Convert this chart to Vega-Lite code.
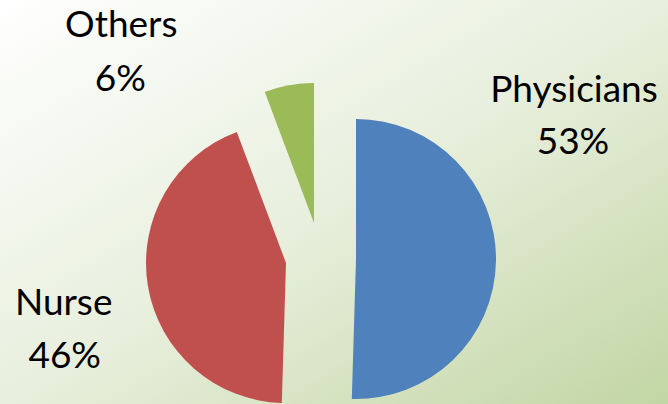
{
  "$schema": "https://vega.github.io/schema/vega-lite/v6.json",
  "width": 668,
  "height": 404,
  "padding": 0,
  "autosize": {"type": "none"},
  "background": "#ffffff",
  "config": {"view": {"stroke": null}, "text": {"font": "Lato", "fontSize": 37, "baseline": "alphabetic", "align": "center", "color": "#000000"}},
  "data": {
    "values": [
      {"role": "Physicians", "share": 0.53},
      {"role": "Nurse", "share": 0.46},
      {"role": "Others", "share": 0.06}
    ]
  },
  "encoding": {
    "theta": {"field": "share", "type": "quantitative", "stack": true},
    "order": {"field": "share", "type": "quantitative", "sort": "descending"},
    "color": {
      "field": "role",
      "type": "nominal",
      "scale": {"domain": ["Physicians", "Nurse", "Others"], "range": ["#4F81BD", "#C0504D", "#9BBB59"]},
      "legend": null
    }
  },
  "layer": [
    {
      "data": {"values": [{}]},
      "mark": {
        "type": "rect",
        "fill": {
          "gradient": "linear",
          "x1": 0, "y1": 0, "x2": 1, "y2": 1,
          "stops": [
            {"offset": 0, "color": "#ffffff"},
            {"offset": 0.5, "color": "#e8efdd"},
            {"offset": 1, "color": "#c2d6a4"}
          ]
        }
      },
      "encoding": {"theta": null, "order": null, "color": null}
    },
    {
      "mark": {"type": "arc", "radius": 140, "xOffset": 22, "yOffset": 57},
      "encoding": {"opacity": {"condition": {"test": "datum.role === 'Physicians'", "value": 1}, "value": 0}}
    },
    {
      "mark": {"type": "arc", "radius": 140, "xOffset": -48, "yOffset": 61},
      "encoding": {"opacity": {"condition": {"test": "datum.role === 'Nurse'", "value": 1}, "value": 0}}
    },
    {
      "mark": {"type": "arc", "radius": 140, "xOffset": -20, "yOffset": 21},
      "encoding": {"opacity": {"condition": {"test": "datum.role === 'Others'", "value": 1}, "value": 0}}
    },
    {
      "mark": {"type": "text", "radius": 200, "xOffset": 22, "yOffset": 57, "dx": 18, "dy": -160},
      "encoding": {"text": {"field": "role"}, "color": null, "opacity": {"condition": {"test": "datum.role === 'Physicians'", "value": 1}, "value": 0}}
    },
    {
      "mark": {"type": "text", "radius": 200, "xOffset": 22, "yOffset": 57, "dx": 17, "dy": -108},
      "encoding": {"text": {"field": "share", "format": ".0%"}, "color": null, "opacity": {"condition": {"test": "datum.role === 'Physicians'", "value": 1}, "value": 0}}
    },
    {
      "mark": {"type": "text", "radius": 200, "xOffset": -48, "yOffset": 61, "dx": -25, "dy": 19},
      "encoding": {"text": {"field": "role"}, "color": null, "opacity": {"condition": {"test": "datum.role === 'Nurse'", "value": 1}, "value": 0}}
    },
    {
      "mark": {"type": "text", "radius": 200, "xOffset": -48, "yOffset": 61, "dx": -24, "dy": 72},
      "encoding": {"text": {"field": "share", "format": ".0%"}, "color": null, "opacity": {"condition": {"test": "datum.role === 'Nurse'", "value": 1}, "value": 0}}
    },
    {
      "mark": {"type": "text", "radius": 200, "xOffset": -20, "yOffset": 21, "dx": -157, "dy": 11},
      "encoding": {"text": {"field": "role"}, "color": null, "opacity": {"condition": {"test": "datum.role === 'Others'", "value": 1}, "value": 0}}
    },
    {
      "mark": {"type": "text", "radius": 200, "xOffset": -20, "yOffset": 21, "dx": -158, "dy": 65},
      "encoding": {"text": {"field": "share", "format": ".0%"}, "color": null, "opacity": {"condition": {"test": "datum.role === 'Others'", "value": 1}, "value": 0}}
    }
  ]
}
